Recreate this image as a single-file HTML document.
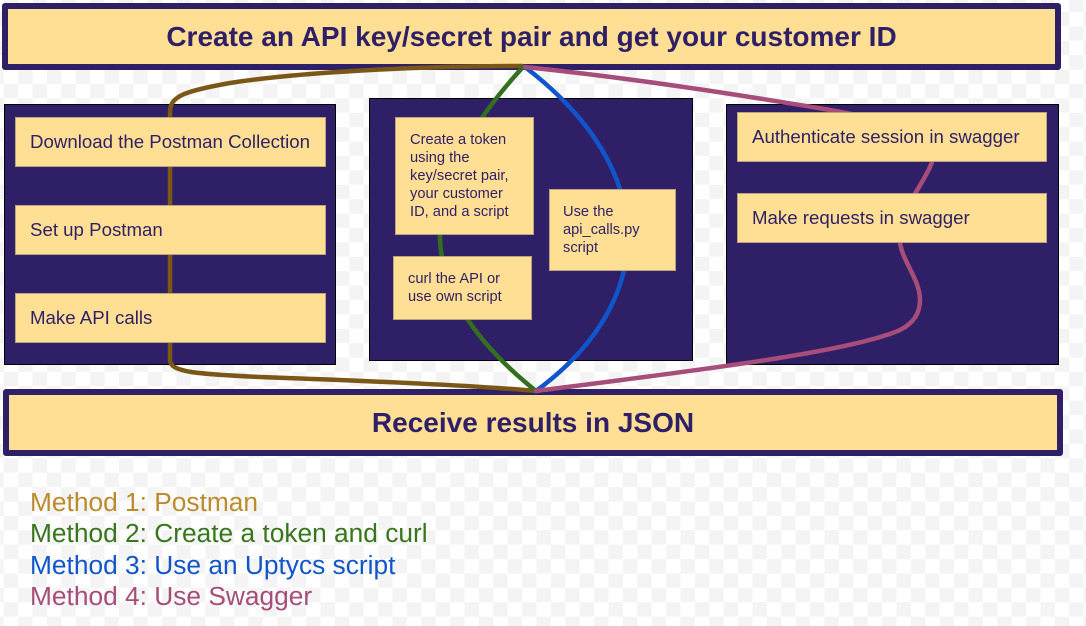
<!DOCTYPE html>
<html>
<head>
<meta charset="utf-8">
<style>
  html, body { margin: 0; padding: 0; }
  body {
    width: 1086px; height: 626px; overflow: hidden; position: relative;
    font-family: "Liberation Sans", Arial, sans-serif;
    background-color: #ffffff;
    background-image: repeating-conic-gradient(#f4f4f4 0 25%, #ffffff 0 50%);
    background-size: 28.8px 28.8px;
    background-position: 18.2px -2.5px;
  }
  .abs { position: absolute; box-sizing: border-box; }
  .big {
    background: #ffdf94; border: 6px solid #2e1f66; border-radius: 3px;
    display: flex; align-items: center; justify-content: center;
    font-weight: bold; font-size: 28px; color: #2e1f66; white-space: nowrap;
  }
  .panel { background: #2e1f66; border: 1px solid #000; }
  .box {
    background: #ffdf94; border: 1px solid #b9a47e;
    display: flex; align-items: center; padding-left: 14px;
    color: #2e1f66; white-space: nowrap;
  }
  .t14 { font-size: 18.67px; }
  .t11 { font-size: 14.67px; line-height: 18px; }
  .legend { font-size: 26.3px; line-height: 31.3px; white-space: nowrap; }
  svg { position: absolute; left: 0; top: 0; }
</style>
</head>
<body>
  <div class="abs big" style="left:2px; top:3px; width:1059px; height:67px;">Create an API key/secret pair and get your customer ID</div>
  <div class="abs big" style="left:3px; top:389px; width:1060px; height:67px;">Receive results in JSON</div>

  <div class="abs panel" style="left:4px; top:104px; width:332px; height:261px;"></div>
  <div class="abs panel" style="left:369px; top:98px; width:324px; height:263px;"></div>
  <div class="abs panel" style="left:726px; top:104px; width:333px; height:261px;"></div>

  <svg width="1086" height="626" viewBox="0 0 1086 626">
    <g fill="none" stroke-width="4.5" stroke-linecap="round">
      <path stroke="#7a5716" d="M522,66 C 420,66 300,72 230,83 C 185,91 170,96 170,112 L170,360 C 170,372 195,374 260,377 C 400,382 480,386 536,391"/>
      <path stroke="#346f20" d="M523,67 C 410,190 410,290 536,391"/>
      <path stroke="#1155cc" d="M525,67 C 660,170 660,300 536,391"/>
      <path stroke="#a64d79" d="M525,67 C 650,80 770,100 830,110 C 900,122 940,140 932,162 C 924,185 895,215 900,243 C 903,262 920,280 920,300 C 920,315 912,324 900,330 C 850,352 700,370 536,391"/>
    </g>
  </svg>

  <div class="abs box t14" style="left:15px; top:117px; width:311px; height:50px;">Download the Postman Collection</div>
  <div class="abs box t14" style="left:15px; top:205px; width:311px; height:50px;">Set up Postman</div>
  <div class="abs box t14" style="left:15px; top:293px; width:311px; height:50px;">Make API calls</div>

  <div class="abs box t11" style="left:395px; top:117px; width:139px; height:118px;">Create a token<br>using the<br>key/secret pair,<br>your customer<br>ID, and a script</div>
  <div class="abs box t11" style="left:549px; top:189px; width:127px; height:82px; padding-left:13px;">Use the<br>api_calls.py<br>script</div>
  <div class="abs box t11" style="left:393px; top:256px; width:139px; height:64px;">curl the API or<br>use own script</div>

  <div class="abs box t14" style="left:737px; top:112px; width:310px; height:50px;">Authenticate session in swagger</div>
  <div class="abs box t14" style="left:737px; top:193px; width:310px; height:50px;">Make requests in swagger</div>

  <div class="abs legend" style="left:30px; top:487px;">
    <div style="color:#bd8a2c;">Method 1: Postman</div>
    <div style="color:#38761d;">Method 2: Create a token and curl</div>
    <div style="color:#1155cc;">Method 3: Use an Uptycs script</div>
    <div style="color:#a64d79;">Method 4: Use Swagger</div>
  </div>
</body>
</html>
